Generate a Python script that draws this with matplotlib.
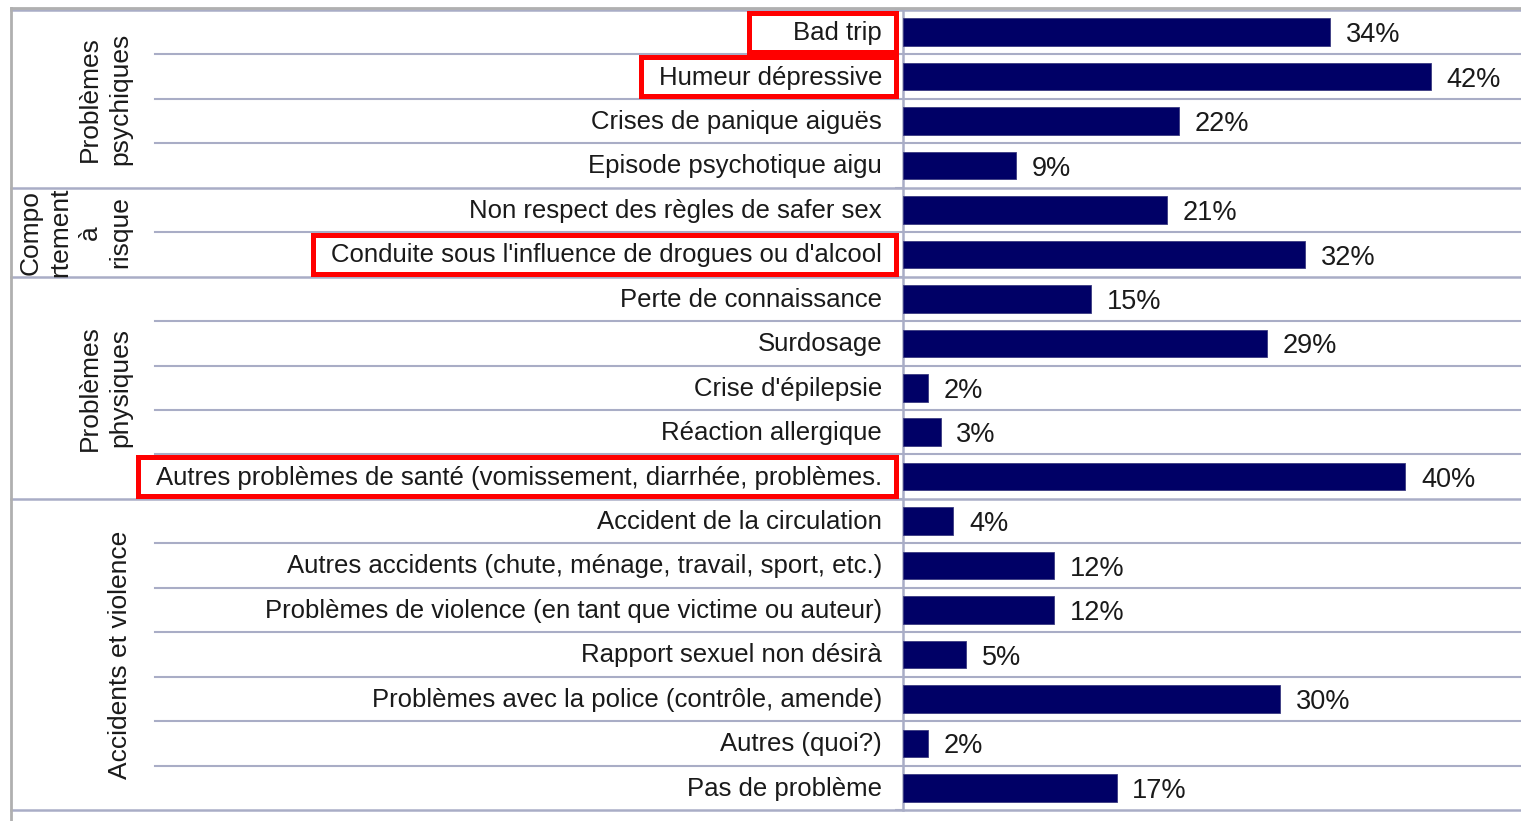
import matplotlib.pyplot as plt
from matplotlib.lines import Line2D
from matplotlib.patches import Rectangle

plt.rcParams['font.family'] = ['Liberation Sans', 'DejaVu Sans']

categories = ["Bad trip", "Humeur dépressive", "Crises de panique aiguës",
              "Episode psychotique aigu", "Non respect des règles de safer sex",
              "Conduite sous l'influence de drogues ou d'alcool",
              "Perte de connaissance", "Surdosage", "Crise d'épilepsie",
              "Réaction allergique",
              "Autres problèmes de santé (vomissement, diarrhée, problèmes.",
              "Accident de la circulation",
              "Autres accidents (chute, ménage, travail, sport, etc.)",
              "Problèmes de violence (en tant que victime ou auteur)",
              "Rapport sexuel non désirà",
              "Problèmes avec la police (contrôle, amende)",
              "Autres (quoi?)", "Pas de problème"]
values = [34, 42, 22, 9, 21, 32, 15, 29, 2, 3, 40, 4, 12, 12, 5, 30, 2, 17]
groups = ["Problèmes\npsychiques", "Compo\nrtement\nà\nrisque",
          "Problèmes\nphysiques", "Accidents et violence"]
group_sizes = [4, 2, 5, 7]
highlighted = ["Bad trip", "Humeur dépressive",
               "Conduite sous l'influence de drogues ou d'alcool",
               "Autres problèmes de santé (vomissement, diarrhée, problèmes."]

W, H = 1521, 821
fig = plt.figure(figsize=(W / 100, H / 100), dpi=100)
ax_left, ax_top, ax_bot = 903, 10, 810
ax = fig.add_axes([ax_left / W, 1 - ax_bot / H, (W - ax_left) / W, (ax_bot - ax_top) / H])

navy = '#000066'
grid_c = '#a9adc6'
txt_c = '#1a1a1a'
n = len(categories)
ypos = list(range(n))
ax.barh(ypos, values, height=0.62, color=navy, edgecolor='#3a3a80', linewidth=0.6, zorder=3)
ax.set_xlim(0, 49.2)
ax.set_ylim(n - 0.5, -0.5)

for y, v in zip(ypos, values):
    ax.text(v + 1.25, y + 0.07, f"{v}%", va='center', ha='left', fontsize=19.5, color=txt_c)

ax_w = W - ax_left
label_txts = {}
for y, c in zip(ypos, categories):
    label_txts[c] = ax.text(-21 / ax_w, y + 0.02, c, transform=ax.get_yaxis_transform(),
                            ha='right', va='center', fontsize=18.5, color=txt_c)

# row lines and group separators
bounds = [-0.5]
for s in group_sizes:
    bounds.append(bounds[-1] + s)
for k in range(n + 1):
    yl = k - 0.5
    if yl in bounds:
        ax.axhline(yl, xmin=-(ax_left - 11) / ax_w, xmax=1, color=grid_c, lw=1.8, clip_on=False, zorder=1)
    else:
        ax.axhline(yl, xmin=-(ax_left - 155) / ax_w, xmax=1, color=grid_c, lw=1.5, clip_on=False, zorder=1)

# group labels
for g, b0, b1 in zip(groups, bounds[:-1], bounds[1:]):
    ax.text(-(ax_left - 132) / ax_w, (b0 + b1) / 2, g, transform=ax.get_yaxis_transform(),
            rotation=90, ha='right', va='center', ma='center', fontsize=19,
            linespacing=1.3, color=txt_c)

for s in ['top', 'right', 'bottom']:
    ax.spines[s].set_visible(False)
ax.spines['left'].set_color(grid_c)
ax.spines['left'].set_linewidth(1.8)
ax.set_xticks([])
ax.set_yticks([b for b in bounds])
ax.set_yticklabels([])
ax.tick_params(axis='y', length=6, color=grid_c, width=1.5)

fig.add_artist(Line2D([11 / W, 11 / W], [0, 1 - 8 / H], color='#b0b0b0', lw=2))
fig.add_artist(Line2D([11 / W, 1], [1 - 8 / H, 1 - 8 / H], color='#b0b0b0', lw=2))

# red highlight boxes
fig.canvas.draw()
r = fig.canvas.get_renderer()
inv = ax.transAxes.inverted()
for c in highlighted:
    bb = label_txts[c].get_window_extent(r)
    pad_l = 44 if c == "Bad trip" else 18
    x0 = inv.transform((bb.x0 - pad_l, 0))[0]
    x1 = -7 / ax_w
    y = categories.index(c)
    rect = Rectangle((x0, y - 0.44), x1 - x0, 0.88, transform=ax.get_yaxis_transform(),
                     fill=False, edgecolor='#ff0000', lw=3.6, clip_on=False, zorder=5)
    ax.add_patch(rect)

fig.savefig('out.png', dpi=100, facecolor='white')
